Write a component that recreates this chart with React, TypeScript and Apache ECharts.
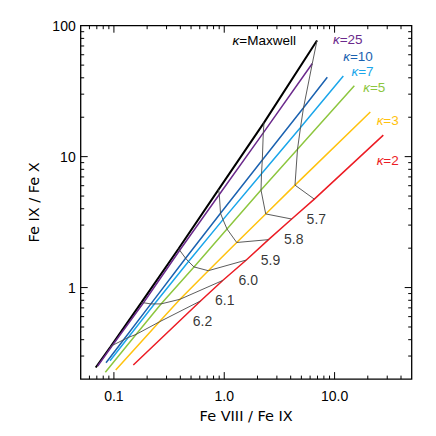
import React, { useEffect, useRef } from 'react';
import * as echarts from 'echarts';

// log T grid of the temperature curves (left to right along each kappa line)
const logT = [6.2, 6.1, 6.0, 5.9, 5.8, 5.7];

const kappaNames = ['Maxwell', '25', '10', '7', '5', '3', '2'];
const kappaColors = ['#000000', '#6B2A8C', '#1B62B0', '#1BA6EA', '#8DC63F', '#FFC20E', '#EC1C24'];

// Fe VIII / Fe IX (x) and Fe IX / Fe X (y) at each log T, per kappa
const ratioX_Maxwell = [0.0931, 0.1778, 0.385, 0.887, 2.293, 6.93];
const ratioY_Maxwell = [0.3531, 0.770, 1.981, 5.603, 18.2, 77.12];
const ratioX_k25 = [0.0971, 0.1854, 0.3947, 0.902, 2.259, 6.284];
const ratioY_k25 = [0.3624, 0.766, 1.927, 5.137, 15.18, 51.49];
const ratioX_k10 = [0.1224, 0.2164, 0.4464, 0.925, 2.213, 5.229];
const ratioY_k10 = [0.3994, 0.7503, 1.674, 3.696, 9.423, 23.61];
const ratioX_k7 = [0.1348, 0.2328, 0.4743, 0.9744, 2.1765, 4.912];
const ratioY_k7 = [0.4156, 0.7503, 1.581, 3.303, 7.393, 16.7];
const ratioX_k5 = [0.1586, 0.2672, 0.5319, 1.0593, 2.1539, 4.6125];
const ratioY_k5 = [0.4386, 0.7503, 1.4377, 2.8017, 5.555, 11.4];
const ratioX_k3 = [0.2584, 0.3972, 0.717, 1.297, 2.3756, 4.3778];
const ratioY_k3 = [0.5474, 0.8141, 1.3455, 2.2094, 3.6517, 6.057];
const ratioX_k2 = [0.6093, 0.9683, 1.5846, 2.5188, 4.087, 6.5527];
const ratioY_k2 = [0.7904, 1.1336, 1.6232, 2.3231, 3.3376, 4.7359];

// extra end points of each kappa line (beyond the temperature grid)
const startX = [0.0684, 0.0713, 0.0848, 0.0922, 0.0836, 0.1038, 0.1499];
const startY = [0.2454, 0.2519, 0.2667, 0.2761, 0.2258, 0.235, 0.2563];
const endX = [null, null, 8.593, 12.0, 15.1, 21.08, 27.65];
const endY = [null, null, 40.41, 41.33, 34.74, 21.91, 14.61];

// axis ticks
const xMajorTicks = [0.1, 1, 10];
const xMinorTicks = [0.06, 0.07, 0.08, 0.09, 0.2, 0.3, 0.4, 0.5, 0.6, 0.7, 0.8, 0.9, 2, 3, 4, 5, 6, 7, 8, 9, 20, 30, 40];
const yMajorTicks = [1, 10];
const yMinorTicks = [0.3, 0.4, 0.5, 0.6, 0.7, 0.8, 0.9, 2, 3, 4, 5, 6, 7, 8, 9, 20, 30, 40, 50, 60, 70, 80, 90];

const ratioXs = [ratioX_Maxwell, ratioX_k25, ratioX_k10, ratioX_k7, ratioX_k5, ratioX_k3, ratioX_k2];
const ratioYs = [ratioY_Maxwell, ratioY_k25, ratioY_k10, ratioY_k7, ratioY_k5, ratioY_k3, ratioY_k2];

const NUM_FONT = '"Liberation Sans", Arial, sans-serif';
const NAME_FONT = '"DejaVu Sans", sans-serif';

export default function App() {
  const ref = useRef<HTMLDivElement>(null);
  useEffect(() => {
    if (!ref.current) return;
    const chart = echarts.init(ref.current, null, { renderer: 'svg' });

    const kappaSeries = kappaNames.map((name, i) => {
      const data: number[][] = [[startX[i], startY[i]]];
      ratioXs[i].forEach((x, j) => data.push([x, ratioYs[i][j]]));
      if (endX[i] != null) data.push([endX[i] as number, endY[i] as number]);
      return {
        type: 'line',
        name: 'kappa=' + name,
        data,
        showSymbol: false,
        symbol: 'none',
        lineStyle: { color: kappaColors[i], width: i === 0 ? 2 : 1.5 },
        z: 3,
        silent: true,
      };
    });

    const tempSeries = logT.map((t, j) => ({
      type: 'line',
      name: 'logT=' + t.toFixed(1),
      data: kappaNames.map((_, i) => [ratioXs[i][j], ratioYs[i][j]]),
      showSymbol: false,
      symbol: 'none',
      lineStyle: { color: '#4a4a4a', width: 0.9 },
      z: 4,
      silent: true,
    }));

    const labelSeries = {
      type: 'scatter',
      data: logT.map((t, j) => [ratioX_k2[j], ratioY_k2[j], t]),
      symbolSize: 0,
      silent: true,
      label: {
        show: true,
        position: 'inside',
        offset: [2, 20],
        formatter: (p: any) => p.value[2].toFixed(1),
        fontFamily: NUM_FONT,
        fontSize: 14,
        color: '#000',
      },
      z: 5,
    };

    const xTickSeries = {
      type: 'custom',
      silent: true,
      clip: false,
      data: [
        ...xMajorTicks.map((v) => [v, 1, 1]),
        ...xMinorTicks.map((v) => [v, 1, 0]),
      ],
      renderItem: (params: any, api: any) => {
        const cs = params.coordSys;
        const px = api.coord([api.value(0), 1])[0];
        const len = api.value(2) ? 7 : 3.5;
        const bottom = cs.y + cs.height;
        const st = { stroke: '#000', lineWidth: 1 };
        return {
          type: 'group',
          children: [
            { type: 'line', shape: { x1: px, y1: bottom, x2: px, y2: bottom - len }, style: st },
            { type: 'line', shape: { x1: px, y1: cs.y, x2: px, y2: cs.y + len }, style: st },
          ],
        };
      },
      z: 6,
    };

    const yTickSeries = {
      type: 'custom',
      silent: true,
      clip: false,
      data: [
        ...yMajorTicks.map((v) => [1, v, 1]),
        ...yMinorTicks.map((v) => [1, v, 0]),
      ],
      renderItem: (params: any, api: any) => {
        const cs = params.coordSys;
        const py = api.coord([1, api.value(1)])[1];
        const len = api.value(2) ? 7 : 3.5;
        const right = cs.x + cs.width;
        const st = { stroke: '#000', lineWidth: 1 };
        return {
          type: 'group',
          children: [
            { type: 'line', shape: { x1: cs.x, y1: py, x2: cs.x + len, y2: py }, style: st },
            { type: 'line', shape: { x1: right, y1: py, x2: right - len, y2: py }, style: st },
          ],
        };
      },
      z: 6,
    };

    const kLabelPos: [number, number][] = [
      [256.3, 32.7],
      [339.8, 31.7],
      [350, 48.2],
      [354.5, 63.5],
      [366.3, 79],
      [379.7, 112],
      [379.7, 152.7],
    ];

    const graphics = kappaNames.map((name, i) => ({
      type: 'text',
      x: kLabelPos[i][0],
      y: kLabelPos[i][1],
      silent: true,
      style: {
        text: '{k|κ}{t|=' + name + '}',
        align: 'center',
        verticalAlign: 'middle',
        textAlign: 'center',
        textVerticalAlign: 'middle',
        fill: kappaColors[i],
        rich: {
          k: { fontStyle: 'italic', fontFamily: NUM_FONT, fontSize: 13.5, lineHeight: 12, fill: kappaColors[i], color: kappaColors[i] },
          t: { fontFamily: NUM_FONT, fontSize: 13.5, lineHeight: 12, fill: kappaColors[i], color: kappaColors[i] },
        },
      },
    }));

    const option: any = {
      animation: false,
      backgroundColor: '#ffffff',
      grid: {
        left: 72.7,
        top: 17.7,
        width: 331,
        height: 358.6,
        show: true,
        borderColor: '#000',
        borderWidth: 1.3,
        backgroundColor: 'transparent',
      },
      xAxis: {
        type: 'log',
        logBase: 10,
        min: 0.05,
        max: 50,
        axisLine: { show: false },
        axisTick: { show: false },
        splitLine: { show: false },
        minorTick: { show: false },
        axisLabel: {
          showMinLabel: false,
          showMaxLabel: false,
          margin: 10,
          formatter: (v: number) => v.toFixed(1),
          fontFamily: NUM_FONT,
          fontSize: 14,
          color: '#000',
        },
        name: 'Fe VIII / Fe IX',
        nameLocation: 'middle',
        nameGap: 25,
        nameTextStyle: { fontFamily: NAME_FONT, fontSize: 14.5, color: '#000' },
      },
      yAxis: {
        type: 'log',
        logBase: 10,
        min: 0.2,
        max: 100,
        axisLine: { show: false },
        axisTick: { show: false },
        splitLine: { show: false },
        minorTick: { show: false },
        axisLabel: {
          showMinLabel: false,
          margin: 5,
          formatter: (v: number) => String(Math.round(v)),
          fontFamily: NUM_FONT,
          fontSize: 14,
          color: '#000',
        },
        name: 'Fe IX / Fe X',
        nameLocation: 'middle',
        nameGap: 38,
        nameTextStyle: { fontFamily: NAME_FONT, fontSize: 14.5, color: '#000' },
      },
      series: [...kappaSeries, ...tempSeries, labelSeries, xTickSeries, yTickSeries],
      graphic: graphics,
    };

    chart.setOption(option);
    return () => chart.dispose();
  }, []);

  return <div ref={ref} style={{ width: 420, height: 420 }} />;
}
